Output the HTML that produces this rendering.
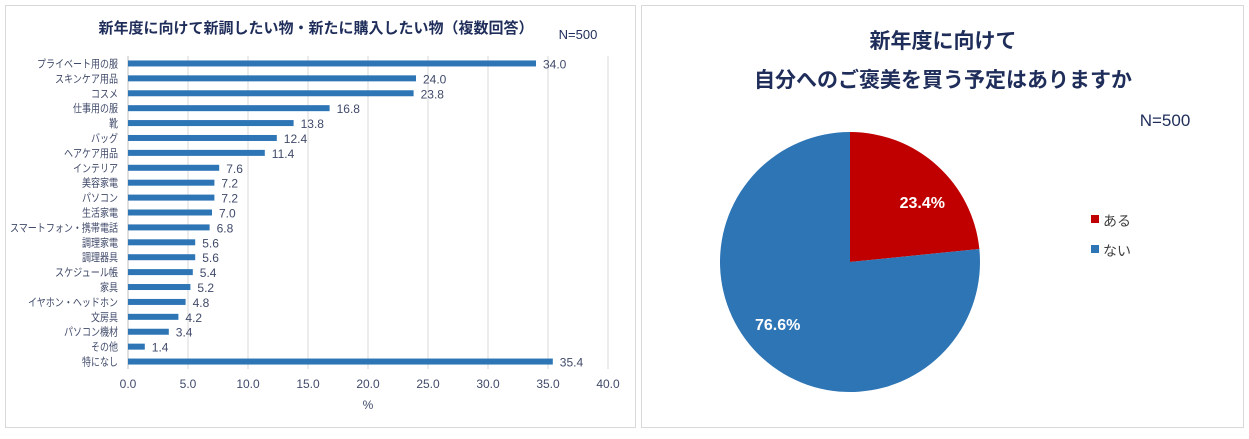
<!DOCTYPE html>
<html><head><meta charset="utf-8">
<style>
body{margin:0;width:1249px;height:434px;background:#fff;overflow:hidden;font-family:"Liberation Sans","Noto Sans CJK JP",sans-serif;}
svg text{font-family:"Liberation Sans","Noto Sans CJK JP",sans-serif;}
</style></head><body>
<svg width="1249" height="434">
<rect x="5.5" y="5.5" width="630" height="422" fill="#fff" stroke="#d9d9d9"/>
<rect x="641.5" y="5.5" width="602" height="422" fill="#fff" stroke="#d9d9d9"/>
<text x="316" y="33" text-anchor="middle" font-size="15" font-weight="bold" fill="#1f2d5a">新年度に向けて新調したい物・新たに購入したい物（複数回答）</text>
<text x="578" y="39" text-anchor="middle" font-size="13" fill="#1f2d5a">N=500</text>
<g id="bars"></g>
<text x="943" y="48" text-anchor="middle" font-size="21" font-weight="bold" fill="#1f2d5a">新年度に向けて</text>
<text x="943" y="87" text-anchor="middle" font-size="21" font-weight="bold" fill="#1f2d5a">自分へのご褒美を買う予定はありますか</text>
<text x="1165" y="126" text-anchor="middle" font-size="17" fill="#1f2d5a">N=500</text>
<g id="pie"></g>
<rect x="1091" y="215" width="8" height="8" fill="#c00000"/>
<text x="1103" y="226" font-size="14" fill="#404040">ある</text>
<rect x="1091" y="245" width="8" height="8" fill="#2e75b6"/>
<text x="1103" y="256" font-size="14" fill="#404040">ない</text>
</svg>
<script>
const categories=["プライベート用の服","スキンケア用品","コスメ","仕事用の服","靴","バッグ","ヘアケア用品","インテリア","美容家電","パソコン","生活家電","スマートフォン・携帯電話","調理家電","調理器具","スケジュール帳","家具","イヤホン・ヘッドホン","文房具","パソコン機材","その他","特になし"];
const values=[34.0,24.0,23.8,16.8,13.8,12.4,11.4,7.6,7.2,7.2,7.0,6.8,5.6,5.6,5.4,5.2,4.8,4.2,3.4,1.4,35.4];
const xTicks=[0,5,10,15,20,25,30,35,40];
const pieLabels=["ある","ない"];
const pieValues=[23.4,76.6];
const NS="http://www.w3.org/2000/svg";
function mk(t,a,p){const e=document.createElementNS(NS,t);for(const k in a)e.setAttribute(k,a[k]);p.appendChild(e);return e;}
const g=document.getElementById('bars');
const X0=128,X1=608,XMAX=40,Y0=56,Y1=369;
const xs=v=>X0+(v/XMAX)*(X1-X0);
const step=(Y1-Y0)/categories.length;
const yc=i=>Y0+step*(i+0.5);
xTicks.forEach(t=>{
 if(t>0){const l=mk('line',{x1:xs(t),x2:xs(t),y1:Y0,y2:Y1,stroke:'#d9d9d9'},g);
 
 }
 const tx=mk('text',{x:xs(t),y:388,'text-anchor':'middle','font-size':12,fill:'#404a6a'},g);tx.textContent=t.toFixed(1);
 
 
});
const ax=mk('line',{x1:X0,x2:X0,y1:Y0,y2:Y1,stroke:'#bfbfbf'},g);


const xt=mk('text',{x:368,y:409,'text-anchor':'middle','font-size':12,fill:'#404a6a'},g);xt.textContent='%';


categories.forEach((c,i)=>{
 const y=yc(i);
 const r=mk('rect',{x:X0,y:y-3,width:xs(values[i])-X0,height:6,fill:'#2e75b6'},g);
 
 
 const l=mk('text',{x:X0-10,y:y+4,'text-anchor':'end','font-size':11,fill:'#404a6a',textLength:c.length*9,lengthAdjust:'spacingAndGlyphs'},g);l.textContent=c;
 
 
 const v=mk('text',{x:xs(values[i])+7,y:y+5,'font-size':12,fill:'#404a6a'},g);v.textContent=values[i].toFixed(1);
 
 
});
const pg=document.getElementById('pie');
const CX=850,CY=262,R=130,colors=['#c00000','#2e75b6'];
const tot=pieValues.reduce((a,b)=>a+b,0);
let a0=-Math.PI/2;
pieValues.forEach((v,i)=>{
 const a1=a0+v/tot*2*Math.PI;
 const large=(a1-a0)>Math.PI?1:0;
 const d=`M${CX},${CY} L${CX+R*Math.cos(a0)},${CY+R*Math.sin(a0)} A${R},${R} 0 ${large} 1 ${CX+R*Math.cos(a1)},${CY+R*Math.sin(a1)} Z`;
 const p=mk('path',{d:d,fill:colors[i]},pg);
 
 
 const am=(a0+a1)/2;
 const t=mk('text',{x:CX+R*0.6*Math.cos(am)+(i===0?20:-20),y:CY+R*0.6*Math.sin(am)+(i===0?4:10),'text-anchor':'middle','font-size':16,'font-weight':'bold',fill:'#fff'},pg);
 t.textContent=v.toFixed(1)+'%';
 
 
 a0=a1;
});
</script>
</body></html>
